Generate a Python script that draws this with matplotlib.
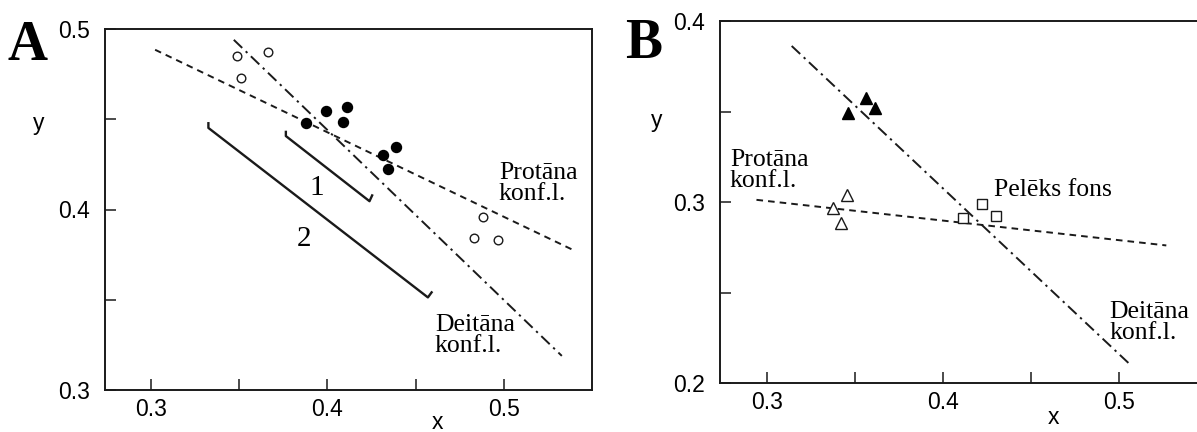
import matplotlib.pyplot as plt
import numpy as np

SANS = 'Liberation Sans'
SERIF = 'Liberation Serif'
W, H = 1197, 432

# ---- panel A data ----
a_open_x = [0.3487, 0.3663, 0.3509, 0.4885, 0.4830, 0.4965]
a_open_y = [0.4848, 0.4870, 0.4728, 0.3959, 0.3843, 0.3830]
a_fill_x = [0.3880, 0.3993, 0.4109, 0.4087, 0.4316, 0.4392, 0.4342]
a_fill_y = [0.4481, 0.4543, 0.4570, 0.4485, 0.4300, 0.4348, 0.4226]
a_protan_x = [0.3024, 0.5388]
a_protan_y = [0.4885, 0.3778]
a_deutan_x = [0.3470, 0.5329]
a_deutan_y = [0.4940, 0.3189]
# brackets: stub top, line start, line end, stub top
br1_x = [0.3765, 0.3765, 0.4239, 0.4254]
br1_y = [0.4430, 0.4407, 0.4046, 0.4078]
br2_x = [0.3326, 0.3326, 0.4570, 0.4591]
br2_y = [0.4478, 0.4452, 0.3513, 0.3541]

# ---- panel B data ----
b_tri_fill_x = [0.3459, 0.3563, 0.3614]
b_tri_fill_y = [0.3490, 0.3573, 0.3518]
b_tri_open_x = [0.3455, 0.3379, 0.3422]
b_tri_open_y = [0.3036, 0.2966, 0.2883]
b_sq_x = [0.4116, 0.4224, 0.4304]
b_sq_y = [0.2911, 0.2990, 0.2925]
b_protan_x = [0.2942, 0.5269]
b_protan_y = [0.3012, 0.2760]
b_deutan_x = [0.3142, 0.5058]
b_deutan_y = [0.3862, 0.2107]

DASH = (3.4, 2.6)
DASHDOT = (6, 2.5, 1.2, 2.5)
INK = '#1a1a1a'
TICK_FS = 16.5


def px_axes(l, r, t, b):
    return [l / W, 1 - b / H, (r - l) / W, (b - t) / H]


def setup(ax, xlim, ylim, yticks, ymin):
    ax.set_xlim(*xlim)
    ax.set_ylim(*ylim)
    ax.set_xticks([0.3, 0.4, 0.5])
    ax.set_xticks([0.35, 0.45], minor=True)
    ax.set_yticks(yticks)
    ax.set_yticks(ymin, minor=True)
    ax.set_xticklabels(['0.3', '0.4', '0.5'], fontfamily=SANS, fontsize=TICK_FS)
    ax.set_yticklabels([f'{v:.1f}' for v in yticks], fontfamily=SANS, fontsize=TICK_FS)
    ax.tick_params(which='both', direction='in', length=8, width=1.1, color=INK)
    ax.tick_params(axis='x', which='both', pad=6)
    ax.tick_params(axis='y', which='both', pad=11)
    for s in ax.spines.values():
        s.set_linewidth(1.4)
        s.set_color(INK)


fig = plt.figure(figsize=(W / 100, H / 100), dpi=100, facecolor='white')

# ---------- A ----------
ax = fig.add_axes(px_axes(105, 592, 29, 390))
setup(ax, (0.274, 0.55), (0.3, 0.5), [0.3, 0.4, 0.5], [0.35, 0.45])
ax.plot(a_protan_x, a_protan_y, color=INK, lw=1.4, dashes=DASH)
ax.plot(a_deutan_x, a_deutan_y, color=INK, lw=1.4, dashes=DASHDOT)
ax.plot(br1_x, br1_y, color=INK, lw=1.7)
ax.plot(br2_x, br2_y, color=INK, lw=1.7)
ax.plot(a_open_x, a_open_y, 'o', ms=6.2, mfc='white', mec=INK, mew=1.0)
ax.plot(a_fill_x, a_fill_y, 'o', ms=7.2, color='black')
ax.text(0.4972, 0.4262, 'Protāna\nkonf.l.', family=SERIF, fontsize=18.5,
        ha='left', va='top', linespacing=0.95)
ax.text(0.4609, 0.3420, 'Deitāna\nkonf.l.', family=SERIF, fontsize=18.5,
        ha='left', va='top', linespacing=0.95)
ax.text(0.3939, 0.4117, '1', family=SERIF, fontsize=21, ha='center', va='center')
ax.text(0.3867, 0.3839, '2', family=SERIF, fontsize=21, ha='center', va='center')
ax.set_ylabel('y', rotation=0, family=SANS, fontsize=TICK_FS, va='center', ha='center')
ax.yaxis.set_label_coords(-0.136, 0.737)
ax.text(0.682, -0.108, 'x', transform=ax.transAxes, family=SANS, fontsize=TICK_FS,
        ha='center', va='baseline')

# ---------- B ----------
bx = fig.add_axes(px_axes(720, 1207, 21, 383))
setup(bx, (0.2735, 0.55), (0.2, 0.4), [0.2, 0.3, 0.4], [0.25, 0.35])
bx.plot(b_protan_x, b_protan_y, color=INK, lw=1.4, dashes=DASH)
bx.plot(b_deutan_x, b_deutan_y, color=INK, lw=1.4, dashes=DASHDOT)
bx.plot(b_tri_fill_x, b_tri_fill_y, '^', ms=8, color='black')
bx.plot(b_tri_open_x, b_tri_open_y, '^', ms=8, mfc='white', mec=INK, mew=1.0)
bx.plot(b_sq_x, b_sq_y, 's', ms=6.5, mfc='white', mec=INK, mew=1.0)
bx.text(0.2791, 0.3292, 'Protāna\nkonf.l.', family=SERIF, fontsize=18.5,
        ha='left', va='top', linespacing=0.95)
bx.text(0.4289, 0.3066, 'Pelēks fons', family=SERIF, fontsize=18.5,
        ha='left', va='center')
bx.text(0.4946, 0.2455, 'Deitāna\nkonf.l.', family=SERIF, fontsize=18.5,
        ha='left', va='top', linespacing=0.95)
bx.set_ylabel('y', rotation=0, family=SANS, fontsize=TICK_FS, va='center', ha='center')
bx.yaxis.set_label_coords(-0.131, 0.7265)
bx.text(0.684, -0.113, 'x', transform=bx.transAxes, family=SANS, fontsize=TICK_FS,
        ha='center', va='baseline')

# panel letters
fig.text(8 / W, 1 - 60 / H, 'A', family=SERIF, fontsize=40, fontweight='bold',
         ha='left', va='baseline')
fig.text(625 / W, 1 - 58 / H, 'B', family=SERIF, fontsize=40, fontweight='bold',
         ha='left', va='baseline')

fig.savefig('out.png', dpi=100)
